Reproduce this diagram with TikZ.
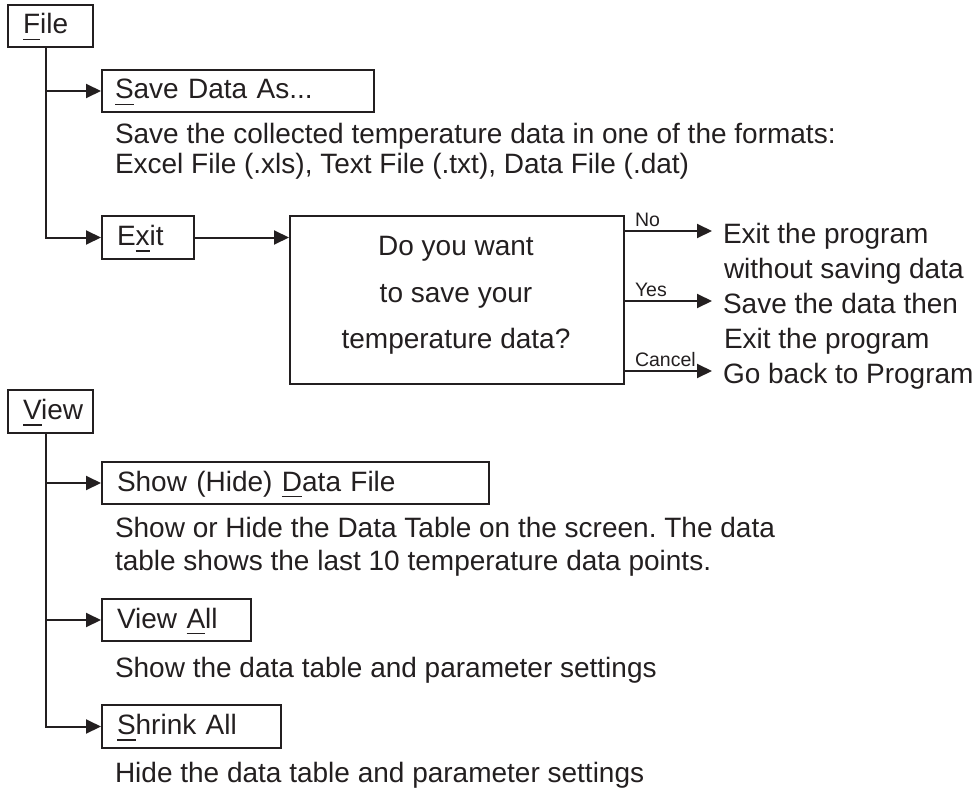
\documentclass[tikz,border=0pt]{standalone}
\usepackage{fontspec}
\setmainfont{Liberation Sans}
\usetikzlibrary{arrows.meta}
\definecolor{ink}{HTML}{231F20}
\newcommand\ulk[1]{\setbox0=\hbox{#1}\makebox[0pt][l]{\smash{\rule[-6pt]{\wd0}{1.4pt}}}#1}
\frenchspacing
\begin{document}
\begin{tikzpicture}[x=1pt,y=-1pt, line width=2pt, draw=ink,
  every node/.style={font=\fontsize{28}{34}\selectfont, text=ink, inner sep=0pt},
  mbox/.style={draw=ink, rectangle, anchor=north west, inner xsep=15pt, inner ysep=0pt,
    minimum height=42pt, text height=21pt, text depth=5pt, align=left},
  arr/.style={draw=ink, -{Triangle[length=15pt,width=14pt]}},
  txt/.style={anchor=base west},
  outtxt/.style={anchor=base west, outer xsep=11pt, text height=28pt, text depth=4pt},
  lbl/.style={font=\fontsize{19.5}{22}\selectfont, anchor=base west, pos=0, xshift=9pt, yshift=5pt}]
\useasboundingbox (0,0) rectangle (976,789);

% File menu
\node[mbox, text width=55pt] (file) at (7,4) {\ulk{F}ile};
\node[mbox, text width=246pt, inner xsep=13pt] (save) at (101,69) {\ulk{S}ave Data As...};
\node[txt] (d1a) at (114,143) {Save the collected temperature data in one of the formats:};
\node[txt] (d1b) at (114,173) {Excel File (.xls), Text File (.txt), Data File (.dat)};
\node[mbox, text width=62pt, minimum height=43pt] (exit) at (101,215) {E\ulk{x}it};

\node[draw=ink, anchor=north west, minimum width=334pt, minimum height=168pt] (q) at (289,215) {};
\node[anchor=base] (q1) at (456,255) {Do you want};
\node[anchor=base] (q2) at (456,302) {to save your};
\node[anchor=base] (q3) at (456,348) {temperature data?};

\node[outtxt] (no1) at (712,243) {Exit the program};
\node[txt] (no2) at (723,278) {without saving data};
\node[outtxt] (yes1) at (712,313) {Save the data then};
\node[txt] (yes2) at (723,348) {Exit the program};
\node[outtxt] (can) at (712,383) {Go back to Program};

\draw[arr] ([xshift=-4.5pt]file.south) |- (save.west);
\draw[arr] ([xshift=-4.5pt]file.south) |- (exit.west);
\draw[arr] (exit.east) -- (exit.east -| q.west);
\draw[arr] (q.east |- no1.west) -- node[lbl] (lno) {No} (no1.west);
\draw[arr] (q.east |- yes1.west) -- node[lbl] (lyes) {Yes} (yes1.west);
\draw[arr] (q.east |- can.west) -- node[lbl] (lcan) {Cancel} (can.west);

% View menu
\node[mbox, text width=55pt, minimum height=43pt] (view) at (7,389) {\ulk{V}iew};
\node[mbox, text width=357pt] (show) at (101,461) {Show (Hide) \ulk{D}ata File};
\node[txt] (d2a) at (114,537) {Show or Hide the Data Table on the screen. The data};
\node[txt] (d2b) at (114,570) {table shows the last 10 temperature data points.};
\node[mbox, text width=119pt] (viewall) at (101,598) {View \ulk{A}ll};
\node[txt] (d3) at (114,677) {Show the data table and parameter settings};
\node[mbox, text width=149pt, minimum height=43pt] (shrink) at (101,704) {\ulk{S}hrink All};
\node[txt] (d4) at (114,782) {Hide the data table and parameter settings};

\draw[arr] ([xshift=-4.5pt]view.south) |- (show.west);
\draw[arr] ([xshift=-4.5pt]view.south) |- (viewall.west);
\draw[arr] ([xshift=-4.5pt]view.south) |- (shrink.west);
\end{tikzpicture}
\end{document}
